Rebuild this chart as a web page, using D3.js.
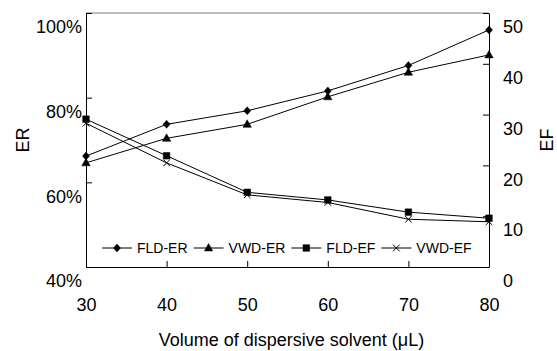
<!DOCTYPE html>
<html>
<head>
<meta charset="utf-8">
<script src="https://cdn.jsdelivr.net/npm/d3@7"></script>
<style>
  body { margin: 0; background: #fff; }
  svg { display: block; font-family: "Liberation Sans", Arial, sans-serif; }
  .axis text { font-size: 18px; fill: #000; }
  .axis path, .axis line { stroke: #000; }
</style>
</head>
<body>
<div id="chart"></div>
<script>
  // values
  let volumes  = [30, 40, 50, 60, 70, 80]
  let fldER    = [66.2, 73.7, 76.9, 81.6, 87.6, 96.0]
  let vwdER    = [64.6, 70.4, 73.7, 80.2, 86.0, 90.1]
  let fldEF    = [29.1, 21.9, 14.7, 13.2, 10.8, 9.6]
  let vwdEF    = [28.3, 20.5, 14.2, 12.7, 9.4, 8.9]
  let erTicks  = [40, 60, 80, 100]
  let efTicks  = [0, 10, 20, 30, 40, 50]
  let seriesNames = ['FLD-ER', 'VWD-ER', 'FLD-EF', 'VWD-EF']

  let width = 557, height = 351,
      m = { left: 86, right: 68, top: 13, bottom: 84 },
      x0 = m.left, x1 = width - m.right,
      y0 = height - m.bottom, y1 = m.top

  // marker shapes, drawn around 0,0
  let shapes = {
    diamond:  function() { return 'M0,-4L3.5,0L0,4L-3.5,0Z' },
    triangle: function() { return 'M0,-4.5L4.2,3L-4.2,3Z' },
    square:   function() { return 'M-3.3,-3.3H3.3V3.3H-3.3Z' },
    cross:    function() { return 'M-3.3,-3.3L3.3,3.3M3.3,-3.3L-3.3,3.3' }
  }

  let svg = d3.select('#chart')
              .append('svg:svg')
              .attr('width', width)
              .attr('height', height)

  let x   = d3.scaleLinear().domain([30, 80]).range([x0, x1]),
      yER = d3.scaleLinear().domain([40, 100]).range([y0, y1]),
      yEF = d3.scaleLinear().domain([0, 50]).range([y0, y1])

  // top border of plot area
  svg.append('svg:line')
    .attr('x1', x0).attr('x2', x1)
    .attr('y1', y1).attr('y2', y1)
    .attr('stroke', '#7f7f7f')

  svg.append('svg:g')
    .attr('class', 'axis')
    .attr('transform', 'translate(0,' + y0 + ')')
    .call(d3.axisBottom(x).tickValues(volumes).tickSize(-6).tickSizeOuter(0).tickPadding(31))

  let gl = svg.append('svg:g')
    .attr('class', 'axis')
    .attr('transform', 'translate(' + x0 + ',0)')
    .call(d3.axisLeft(yER).tickValues(erTicks).tickSize(-6).tickSizeOuter(0).tickPadding(4)
            .tickFormat(function(d) { return d + '%' }))
  gl.selectAll('text').attr('dy', '1.1em')

  let gr = svg.append('svg:g')
    .attr('class', 'axis')
    .attr('transform', 'translate(' + x1 + ',0)')
    .call(d3.axisRight(yEF).tickValues(efTicks).tickSize(-6).tickSizeOuter(0).tickPadding(14))
  gr.selectAll('text').attr('dy', '1.1em')

  svg.selectAll('.axis .domain').attr('stroke', '#000')

  // axis titles
  svg.append('svg:text')
    .attr('transform', 'translate(29,' + (y1 + y0) / 2 + ') rotate(-90)')
    .attr('text-anchor', 'middle')
    .attr('font-size', 18)
    .text('ER')

  svg.append('svg:text')
    .attr('transform', 'translate(553,' + (y1 + y0) / 2 + ') rotate(-90)')
    .attr('text-anchor', 'middle')
    .attr('font-size', 18)
    .text('EF')

  svg.append('svg:text')
    .attr('x', (x0 + x1) / 2 + 4)
    .attr('y', 346)
    .attr('text-anchor', 'middle')
    .attr('font-size', 18)
    .text('Volume of dispersive solvent (\u03BCL)')

  let series = [
    { name: seriesNames[0], values: fldER, y: yER, shape: 'diamond' },
    { name: seriesNames[1], values: vwdER, y: yER, shape: 'triangle' },
    { name: seriesNames[2], values: fldEF, y: yEF, shape: 'square' },
    { name: seriesNames[3], values: vwdEF, y: yEF, shape: 'cross' }
  ]

  function _marker(sel, shape) {
    sel.attr('d', shapes[shape]())
      .attr('fill', shape == 'cross' ? 'none' : '#000')
      .attr('stroke', '#000')
      .attr('stroke-width', shape == 'cross' ? 1 : 0.5)
  }

  let plot = svg.append('svg:g').attr('id', 'series')

  series.forEach(function(s) {
    let line = d3.line()
                 .x(function(d, i) { return x(volumes[i]) })
                 .y(function(d) { return s.y(d) })
    plot.append('svg:path')
      .attr('d', line(s.values))
      .attr('fill', 'none')
      .attr('stroke', '#000')
      .attr('stroke-width', 1)
    plot.selectAll('.m-' + s.shape).data(s.values)
      .enter()
      .append('svg:path')
        .attr('class', 'm-' + s.shape)
        .attr('transform', function(d, i) { return 'translate(' + x(volumes[i]) + ',' + s.y(d) + ')' })
        .call(_marker, s.shape)
  })

  // legend
  let legend = svg.append('svg:g').attr('id', 'legend'),
      lx = 102, ly = 248
  series.forEach(function(s) {
    legend.append('svg:line')
      .attr('x1', lx).attr('x2', lx + 30)
      .attr('y1', ly).attr('y2', ly)
      .attr('stroke', '#000')
    legend.append('svg:path')
      .attr('transform', 'translate(' + (lx + 15) + ',' + ly + ')')
      .call(_marker, s.shape)
    let t = legend.append('svg:text')
      .attr('x', lx + 35)
      .attr('y', ly + 5)
      .attr('font-size', 14)
      .text(s.name)
    lx = lx + 35 + t.node().getComputedTextLength() + 6
  })
</script>
</body>
</html>
